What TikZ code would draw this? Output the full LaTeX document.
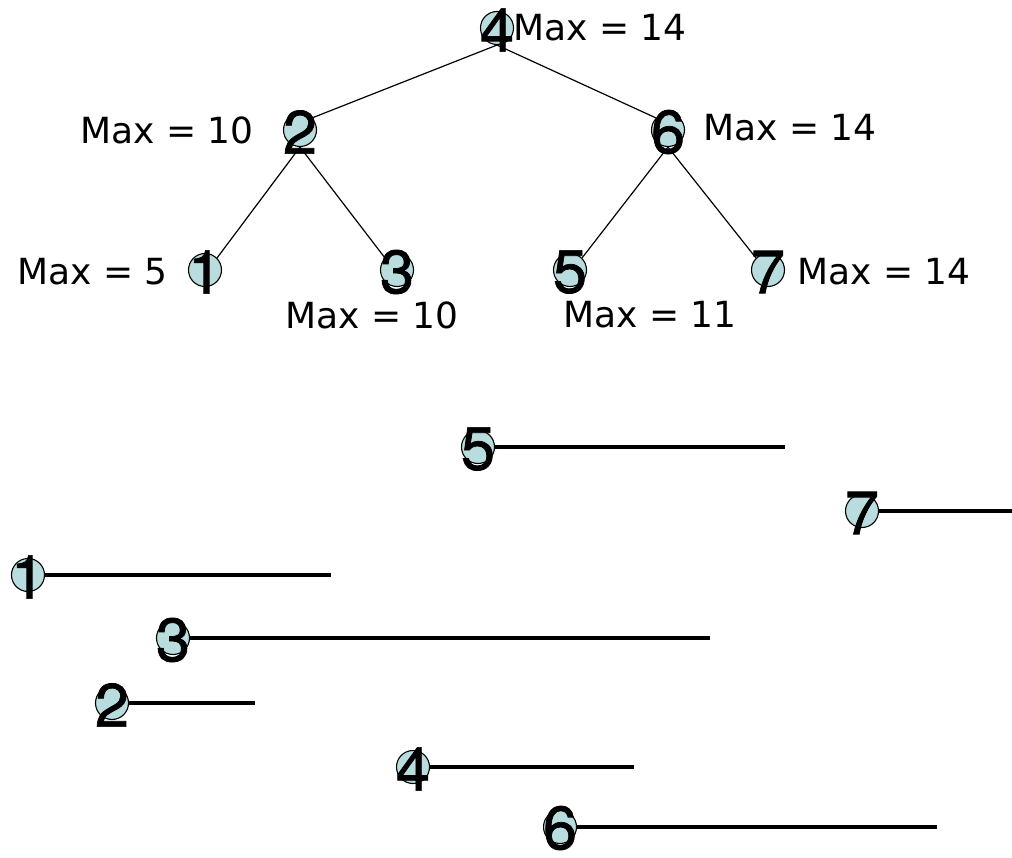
\documentclass[tikz,border=0pt]{standalone}
\usepackage{fontspec}
\newfontfamily\digitfont[FakeBold=1.2]{TeX Gyre Heros}
\newfontfamily\labelfont{DejaVu Sans}
\definecolor{nodefill}{RGB}{185,220,222}
\begin{document}
\begin{tikzpicture}[x=1pt,y=-1pt,
  dot/.style={circle,draw=black,line width=1.1pt,fill=nodefill,minimum size=33pt,inner sep=0pt},
  digit/.style={font=\digitfont\fontsize{61}{61}\selectfont,inner sep=0pt},
  maxlabel/.style={font=\labelfont\fontsize{36}{36}\selectfont,inner sep=0pt,anchor=west},
  treeedge/.style={line width=1.2pt},
  interval/.style={line width=4.8pt}]
\useasboundingbox (0,0) rectangle (1012,858);
% ---------- tree ----------
\node[dot] (c4) at (497,28) {};
\node[dot] (c2) at (300,130) {};
\node[dot] (c6) at (668,130) {};
\node[dot] (c1) at (205,270) {};
\node[dot] (c3) at (397,270) {};
\node[dot] (c5) at (570,270) {};
\node[dot] (c7) at (768,270) {};
\draw[treeedge] (c4.south) -- (c2.north east);
\draw[treeedge] (c4.south) -- (c6.north west);
\draw[treeedge] (c2.south) -- (c1.north east);
\draw[treeedge] (c2.south) -- (c3.north west);
\draw[treeedge] (c6.south) -- (c5.north east);
\draw[treeedge] (c6.south) -- (c7.north west);
\node[digit] (d4) at (497,30) {4};
\node[digit] (d2) at (300,132) {2};
\node[digit] (d6) at (668,132) {6};
\node[digit] (d1) at (205,272) {1};
\node[digit] (d3) at (397,272) {3};
\node[digit] (d5) at (570,272) {5};
\node[digit] (d7) at (768,272) {7};
\node[maxlabel] (m4) at (513,28) {Max = 14};
\node[maxlabel] (m2) at (80,130) {Max = 10};
\node[maxlabel] (m6) at (703,128) {Max = 14};
\node[maxlabel] (m1) at (17,272) {Max = 5};
\node[maxlabel] (m3) at (285,315) {Max = 10};
\node[maxlabel] (m5) at (563,315) {Max = 11};
\node[maxlabel] (m7) at (797,272) {Max = 14};
% ---------- intervals ----------
\coordinate (e5) at (785,447);
\coordinate (e7) at (1012,511);
\coordinate (e1) at (331,575);
\coordinate (e3) at (710,638);
\coordinate (e2) at (255,703);
\coordinate (e4) at (634,767);
\coordinate (e6) at (937,827);
\node[dot] (b5) at (478,447) {};
\node[dot] (b7) at (862,511) {};
\node[dot] (b1) at (28,575) {};
\node[dot] (b3) at (173,638) {};
\node[dot] (b2) at (112,703) {};
\node[dot] (b4) at (413,767) {};
\node[dot] (b6) at (560,827) {};
\draw[interval] (b5) -- (e5);
\draw[interval] (b7) -- (e7);
\draw[interval] (b1) -- (e1);
\draw[interval] (b3) -- (e3);
\draw[interval] (b2) -- (e2);
\draw[interval] (b4) -- (e4);
\draw[interval] (b6) -- (e6);
\node[digit] (g5) at (478,449) {5};
\node[digit] (g7) at (862,513) {7};
\node[digit] (g1) at (28,577) {1};
\node[digit] (g3) at (173,640) {3};
\node[digit] (g2) at (112,705) {2};
\node[digit] (g4) at (413,769) {4};
\node[digit] (g6) at (560,828) {6};
\end{tikzpicture}
\end{document}
